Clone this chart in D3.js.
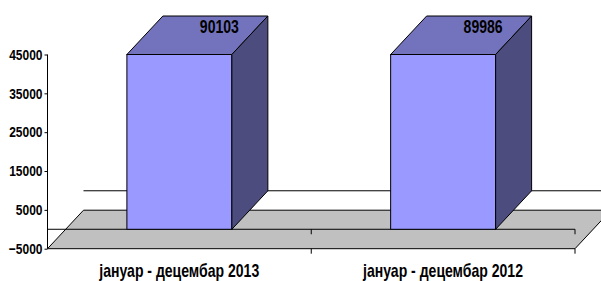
<!DOCTYPE html>
<html>
<head>
<meta charset="utf-8">
<script src="https://cdn.jsdelivr.net/npm/d3@7"></script>
<style>
  body { margin: 0; background: #fff; }
  svg text { font-family: "Liberation Sans Narrow", "Arial Narrow", "Liberation Sans", sans-serif; font-weight: bold; }
  /* no narrow face installed, so squeeze the regular one */
  .narrow { transform-box: fill-box; transform-origin: center; transform: scaleX(0.78); }
  .narrow-end { transform-box: fill-box; transform-origin: right center; transform: scaleX(0.8); }
</style>
</head>
<body>
<div id="chart"></div>
<script>
// chart data
var categories = ["јануар - децембар 2013", "јануар - децембар 2012"];
var values = [90103, 89986];
var yTicks = [-5000, 5000, 15000, 25000, 35000, 45000];

var width = 601, height = 281;
var depth = {dx: 36, dy: -38.5};   // 3d offset of the floor / bars

var svg = d3.select("#chart")
    .append("svg")
    .attr("width", width)
    .attr("height", height);

var x = d3.scaleBand()
    .domain(categories)
    .range([47.5, 575])
    .paddingInner(0.602)
    .paddingOuter(0.301);

var y = d3.scaleLinear()
    .domain([-5000, 45000])
    .range([248.7, 54.5])
    .clamp(true);

var x0 = x.range()[0], x1 = x.range()[1];
var yMin = y(-5000), yZero = y(0);

// floor at the axis minimum
svg.append("path")
    .attr("d", d3.line()([
        [x0, yMin], [x1, yMin], [x1 + depth.dx, yMin + depth.dy], [x0 + depth.dx, yMin + depth.dy]
    ]) + "Z")
    .attr("fill", "#c0c0c0")
    .attr("stroke", "#000")
    .attr("stroke-width", 1);

// zero line on the back
svg.append("line")
    .attr("x1", x0 + depth.dx).attr("x2", x1 + depth.dx)
    .attr("y1", yZero + depth.dy).attr("y2", yZero + depth.dy)
    .attr("stroke", "#000");

// category axis at zero (front)
var catAxis = d3.axisBottom(x).tickSize(0).tickFormat("");
svg.append("g")
    .attr("transform", "translate(0," + yZero + ")")
    .call(catAxis)
    .call(g => g.select(".domain").attr("d", "M" + x0 + ",0H" + x1));

// tick marks between categories, on the zero line and the floor front
var bounds = categories.map(function(c) { return x(c) + x.bandwidth() + x.step() * x.paddingInner() / 2; });
[yZero, yMin].forEach(function(yy) {
    svg.selectAll(null)
        .data(bounds)
        .enter()
        .append("line")
        .attr("x1", d => Math.min(d, x1)).attr("x2", d => Math.min(d, x1))
        .attr("y1", yy).attr("y2", yy + 5)
        .attr("stroke", "#000");
});

// bars: front, top, side
var bars = svg.selectAll(".bar")
    .data(values)
    .enter()
    .append("g")
    .attr("class", "bar");

bars.append("rect")
    .attr("x", (d, i) => x(categories[i]))
    .attr("y", d => y(d))
    .attr("width", x.bandwidth())
    .attr("height", d => yZero - y(d))
    .attr("fill", "#9999ff")
    .attr("stroke", "#000")
    .attr("stroke-width", 1);

bars.append("path")
    .attr("d", function(d, i) {
        var bx = x(categories[i]), by = y(d), bw = x.bandwidth();
        return d3.line()([[bx, by], [bx + bw, by], [bx + bw + depth.dx, by + depth.dy], [bx + depth.dx, by + depth.dy]]) + "Z";
    })
    .attr("fill", "#7373bd")
    .attr("stroke", "#000");

bars.append("path")
    .attr("d", function(d, i) {
        var bx = x(categories[i]) + x.bandwidth(), by = y(d);
        return d3.line()([[bx, by], [bx + depth.dx, by + depth.dy], [bx + depth.dx, yZero + depth.dy], [bx, yZero]]) + "Z";
    })
    .attr("fill", "#4c4c7e")
    .attr("stroke", "#000");

// value labels
bars.append("text")
    .attr("class", "narrow")
    .attr("x", (d, i) => x(categories[i]) + x.bandwidth() / 2 + depth.dx + 4)
    .attr("y", d => y(d) + depth.dy + 17.5)
    .attr("text-anchor", "middle")
    .attr("font-size", "18px")
    .text(d => d);

// value axis
var yAxis = d3.axisLeft(y)
    .tickValues(yTicks)
    .tickSize(3)
    .tickPadding(2)
    .tickFormat(d3.format("d"));

svg.append("g")
    .attr("transform", "translate(" + x0 + ",0)")
    .call(yAxis)
    .call(g => g.select(".domain").attr("d", "M0," + y(45000) + "V" + yMin))
    .call(g => g.selectAll("text").attr("class", "narrow-end").attr("font-size", "15px").attr("fill", "#000")
        .attr("font-family", null));

// category labels
svg.selectAll(".cat")
    .data(categories)
    .enter()
    .append("text")
    .attr("class", "cat narrow")
    .attr("x", d => x(d) + x.bandwidth() / 2)
    .attr("y", 277)
    .attr("text-anchor", "middle")
    .attr("font-size", "18px")
    .text(d => d);
</script>
</body>
</html>
